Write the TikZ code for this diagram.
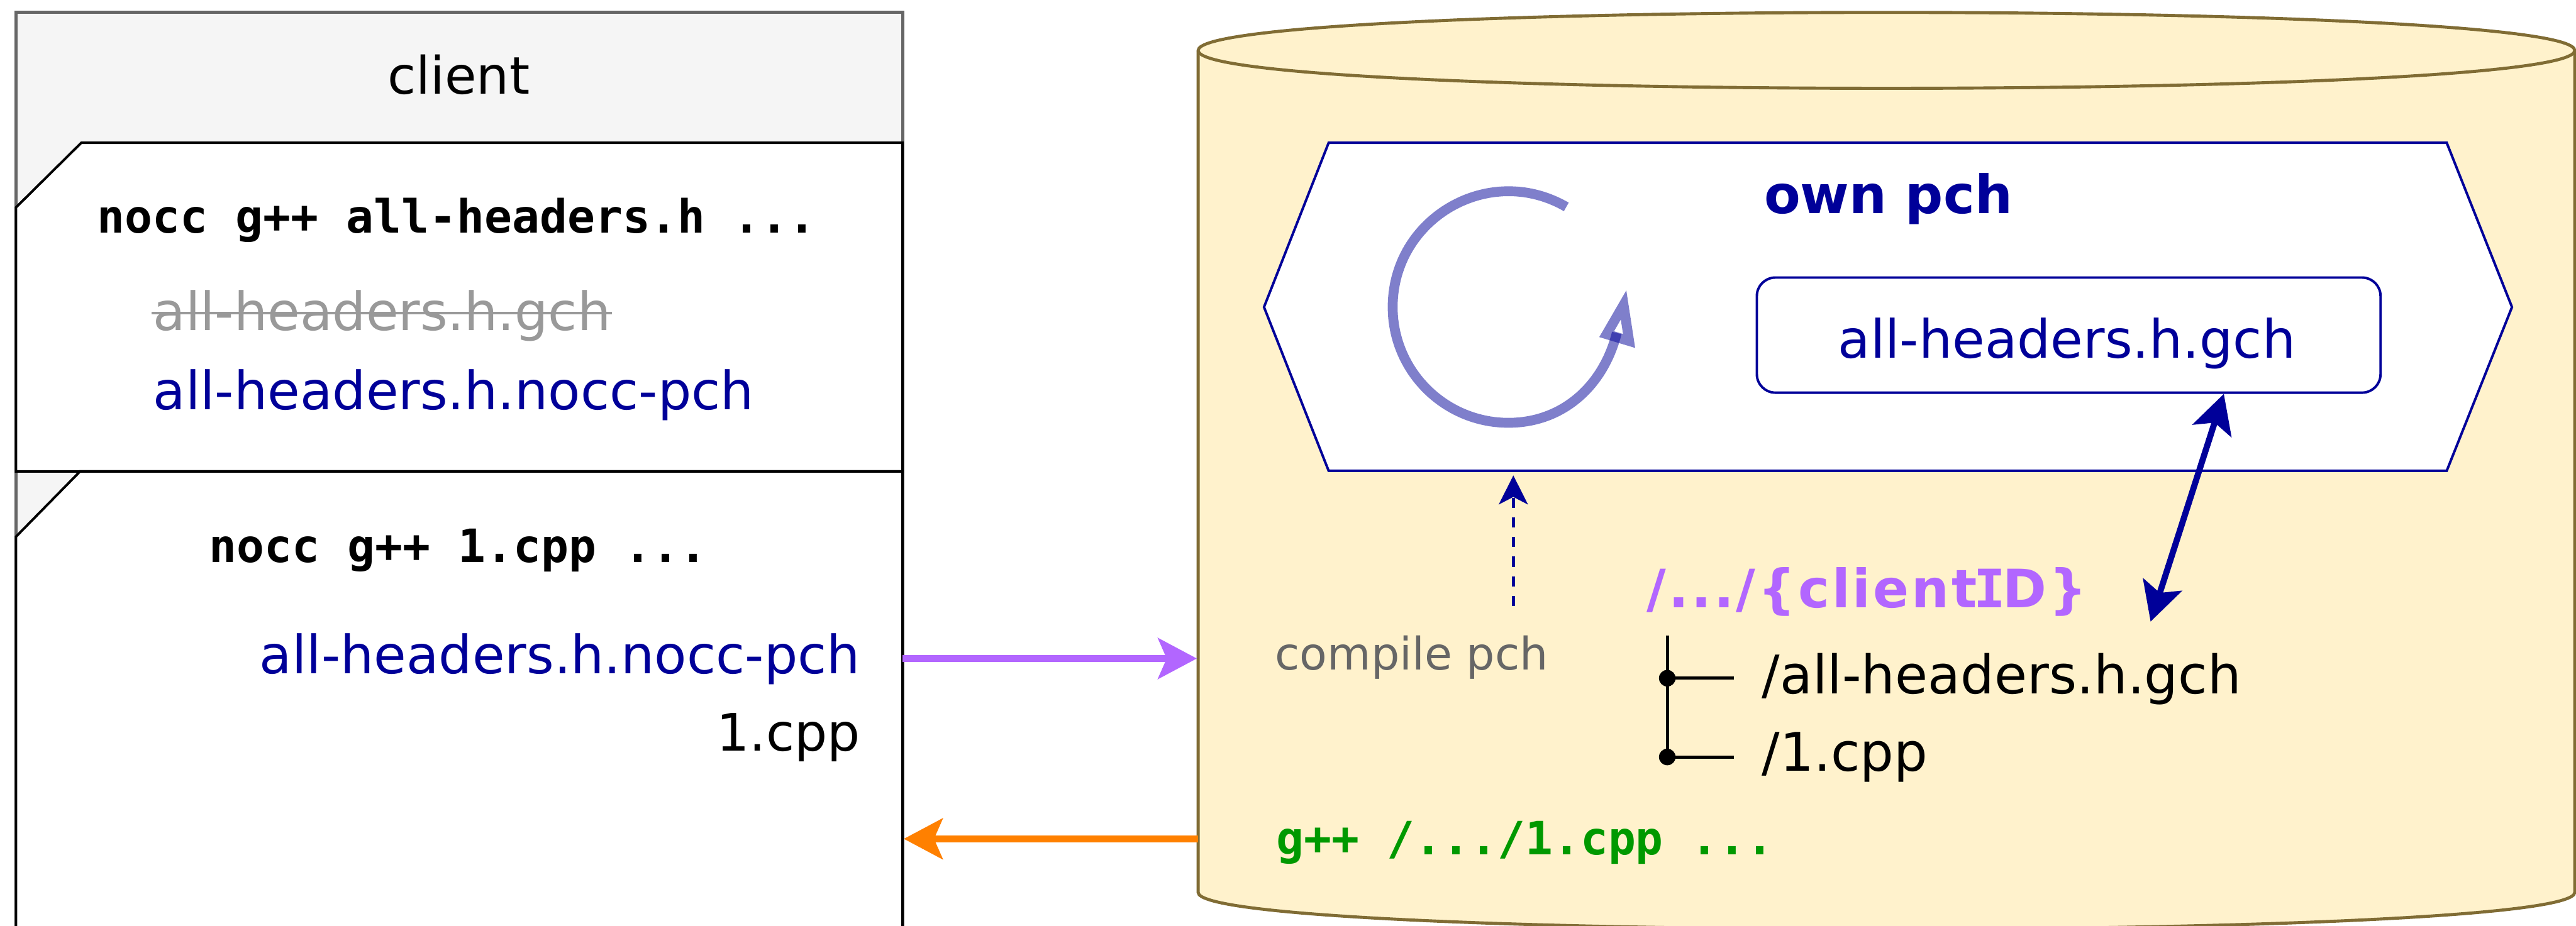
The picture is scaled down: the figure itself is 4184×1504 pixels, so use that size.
\documentclass[tikz,border=0pt]{standalone}
\usepackage{fontspec}
\setmainfont{DejaVu Sans}
\setmonofont{DejaVu Sans Mono}
\usetikzlibrary{arrows.meta,shapes.geometric}
\definecolor{navy}{HTML}{000099}
\definecolor{purp}{HTML}{B266FF}
\definecolor{orng}{HTML}{FF8000}
\definecolor{grn}{HTML}{009900}
\definecolor{cylfill}{HTML}{FFF2CC}
\definecolor{cylline}{HTML}{806C34}
\definecolor{headfill}{HTML}{F5F5F5}
\definecolor{headline}{HTML}{666666}
\newcommand{\fsz}[1]{\fontsize{#1}{#1}\selectfont}
\tikzset{
  x=1pt,y=-1pt,
  txt/.style={inner sep=0pt,outer sep=0pt,anchor=base west},
  txtr/.style={inner sep=0pt,outer sep=0pt,anchor=base east},
  txtc/.style={inner sep=0pt,outer sep=0pt,anchor=base},
  sans/.style={font=\fsz{85.8}},
  treesans/.style={font=\fsz{86.5}},
  shortsans/.style={font=\fsz{84}},
  smallsans/.style={font=\fsz{73}},
  cmd/.style={font=\fsz{74.6}\ttfamily\bfseries},
  folder/.style={draw=black,line width=4pt,fill=white,line join=miter},
  bigarrow/.style={line width=11pt,-{Stealth[length=63pt,width=66pt,inset=14pt]}},
  treeline/.style={draw=black,line width=5pt},
  dot/.style={circle,fill=black,inner sep=0pt,minimum size=27pt},
  cyl/.style={draw=cylline,line width=5pt,fill=cylfill},
  loopstroke/.style={draw=navy,draw opacity=.5,line width=16pt,line join=miter},
}
\begin{document}
\begin{tikzpicture}
\path[use as bounding box] (0,0) rectangle (4184,1504);
\clip (0,0) rectangle (4184,1504);
\fill[white] (0,0) rectangle (4184,1504);

% client
\path[draw=headline,line width=5pt,fill=headfill] (26,20) -- (1466,20) -- (1466,1560) -- (26,1560) -- cycle;
\node[txtc,shortsans] (client) at (745,153) {client};
\path[folder] (132,232) -- (1466,232) -- (1466,766) -- (26,766) -- (26,337) -- cycle;
\path[folder] (130,766) -- (1466,766) -- (1466,1560) -- (26,1560) -- (26,872) -- cycle;
\node[txt,cmd] (cmdone) at (158,378) {nocc g++ all-headers.h ...};
\node[txt,sans,text=black!40] (oldgch) at (249,537) {all-headers.h.gch};
\draw[black!40,line width=4pt] ([xshift=-3pt]oldgch.west |- 0,509) -- ([xshift=2pt]oldgch.east |- 0,509);
\node[txt,sans,text=navy] (nocpch) at (249,666) {all-headers.h.nocc-pch};
\node[txt,cmd] (cmdtwo) at (340,914) {nocc g++ 1.cpp ...};
\node[txtr,sans,text=navy] (sendpch) at (1397,1094) {all-headers.h.nocc-pch};
\node[txtr,shortsans] (sendcpp) at (1397,1220) {1.cpp};

% server cylinder
\path[cyl] (1946,82) .. controls (1946,-0.5) and (4182,-0.5) .. (4182,82) -- (4182,1450)
   .. controls (4182,1530) and (1946,1530) .. (1946,1450) -- cycle;
\path[cyl] (1946,82) .. controls (1946,164) and (4182,164) .. (4182,82);

% own pch
\path[draw=navy,line width=4pt,fill=white] (2158,232) -- (3974,232) -- (4080,499) -- (3974,765) -- (2158,765) -- (2053,499) -- cycle;
\node[txtc,font=\fsz{86}\bfseries,text=navy] (ownpch) at (3067,347) {own pch};
\node[draw=navy,line width=4pt,fill=white,rounded corners=30pt,minimum width=1013pt,minimum height=187pt,inner sep=0pt] (gchbox) at (3360,544.5) {};
\node[txtc,sans,text=navy] (gchlabel) at (3357,582) {all-headers.h.gch};

% loop arrow
\path[loopstroke] (2544,336.2) .. controls (2418.7,263.8) and (2262,354.3) .. (2262,499)
   .. controls (2262,602.8) and (2346.2,687) .. (2450,687)
   .. controls (2540,687) and (2605,625) .. (2626,541);
\path[loopstroke] (2637,495.5) -- (2609.5,543) -- (2646,554) -- cycle;

% labels
\node[txt,smallsans,text=headline] (compile) at (2071,1088) {compile pch};
\node[txt,font=\fsz{86}\bfseries\addfontfeature{LetterSpace=4.6},text=purp] (clientid) at (2675,987) {/.../\{client{\ttfamily\kern-5pt I\kern-5pt}D\}};
\node[txt,treesans] (hfile) at (2862,1127) {/all-headers.h.gch};
\node[txt,treesans] (cppfile) at (2862,1253) {/1.cpp};
\node[txt,cmd,text=grn] (gpp) at (2073,1389) {g++ /.../1.cpp ...};

% tree
\coordinate (treetop) at (2708,1033);
\node[dot] (dotone) at (2708,1102) {};
\node[dot] (dottwo) at (2708,1230) {};
\coordinate (stubone) at (2816,1102);
\coordinate (stubtwo) at (2816,1230);
\draw[treeline] (treetop) -- (dottwo.center);
\draw[treeline] (dotone.center) -- (stubone);
\draw[treeline] (dottwo.center) -- (stubtwo);

% connectors
\coordinate (clientout) at (1466,1070);
\coordinate (cylin) at (1944,1070);
\coordinate (cylout) at (1946,1363);
\coordinate (clientin) at (1468,1363);
\draw[purp,bigarrow] (clientout) -- (cylin);
\draw[orng,bigarrow] (cylout) -- (clientin);
\coordinate (gchport) at (3612,640);
\coordinate (dirport) at (3493,1010);
\draw[navy,line width=10pt,{Stealth[length=63pt,width=66pt,inset=14pt]}-{Stealth[length=63pt,width=66pt,inset=14pt]}] (gchport) -- (dirport);
\coordinate (compilestart) at (2458,985);
\coordinate (ownbottom) at (2458,772.5);
\draw[navy,line width=5.5pt,dash pattern=on 16.5pt off 15.5pt,-{Stealth[length=47pt,width=47pt,inset=12pt]}] (compilestart) -- (ownbottom);
\end{tikzpicture}
\end{document}
